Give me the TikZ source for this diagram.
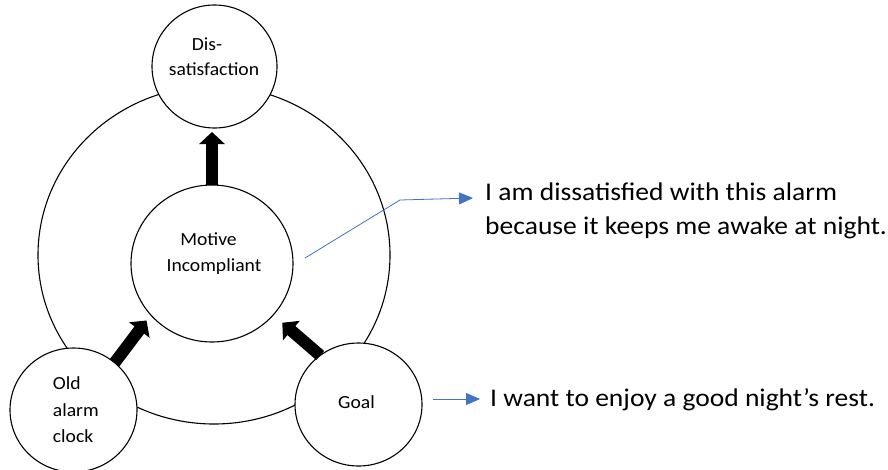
\documentclass[tikz,border=0pt]{standalone}
\usepackage{fontspec}
\setmainfont{Carlito}[FakeStretch=1.06]
\newfontfamily\notefont{Carlito}[FakeStretch=1.08]
\usetikzlibrary{shapes.geometric,arrows.meta}
\definecolor{linkblue}{HTML}{4472C4}
\begin{document}
\begin{tikzpicture}[x=1pt,y=-1pt,
  ring/.style={draw=black,line width=1.1pt,ellipse,inner sep=0pt,outer sep=0pt},
  bubble/.style={ring,fill=white},
  bigarrow/.style={line width=12pt,-{Triangle[width=25pt,length=12pt]}},
  note/.style={draw=linkblue,line width=0.8pt,-{Triangle[width=12pt,length=14pt]}},
  small/.style={font=\fontsize{18.5}{22}\selectfont,inner sep=0pt},
  big/.style={font=\notefont\fontsize{25.5}{30}\selectfont,inner sep=0pt}]
\useasboundingbox (0,0) rectangle (888,469);

% outer ring and the four bubbles
\node[ring,minimum width=352pt,minimum height=338pt] (outer) at (214,255) {};
\node[bubble,minimum width=162pt,minimum height=157pt] (motive) at (212,263.5) {};
\node[bubble,minimum width=125pt,minimum height=123pt] (dis) at (214.5,66.5) {};
\node[bubble,minimum width=127pt,minimum height=124pt] (old) at (73.5,410) {};
\node[bubble,minimum width=127pt,minimum height=123pt] (goal) at (358.5,404.5) {};

% bubble texts
\node[small,anchor=base] (dis1) at (207,50.7) {Dis-};
\node[small,anchor=base] (dis2) at (214,75) {satisfaction};
\node[small,anchor=base] (mot1) at (208.5,245) {Motive};
\node[small,anchor=base] (mot2) at (214,271.7) {Incompliant};
\node[small,anchor=base west] (old1) at (52.7,389) {Old};
\node[small,anchor=base west] (old2) at (52.7,416.7) {alarm};
\node[small,anchor=base west] (old3) at (52.7,442) {clock};
\node[small,anchor=base] (goal1) at (356.5,408) {Goal};

% thick arrows
\draw[bigarrow,shorten >=4pt] (motive.north) -- (motive.north |- dis.south);
\draw[bigarrow,shorten >=7pt] (old.49) -- (motive.220);
\draw[bigarrow,shorten >=12pt] (goal.128) -- (motive.-40);

% explanatory notes
\node[big,anchor=base west] (t1) at (485,200) {I am dissatisfied with this alarm};
\node[big,anchor=base west] (t2) at (485,234) {because it keeps me awake at night.};
\node[big,anchor=base west] (t3) at (490,406) {I want to enjoy a good night’s rest.};

\coordinate (n1s) at (305,258);
\coordinate (n1b) at (400,200);
\coordinate (n1e) at (473,198);
\draw[note] (n1s) -- (n1b) -- (n1e);
\coordinate (n2s) at (433,399);
\coordinate (n2e) at (480,399);
\draw[note] (n2s) -- (n2e);
\end{tikzpicture}
\end{document}
